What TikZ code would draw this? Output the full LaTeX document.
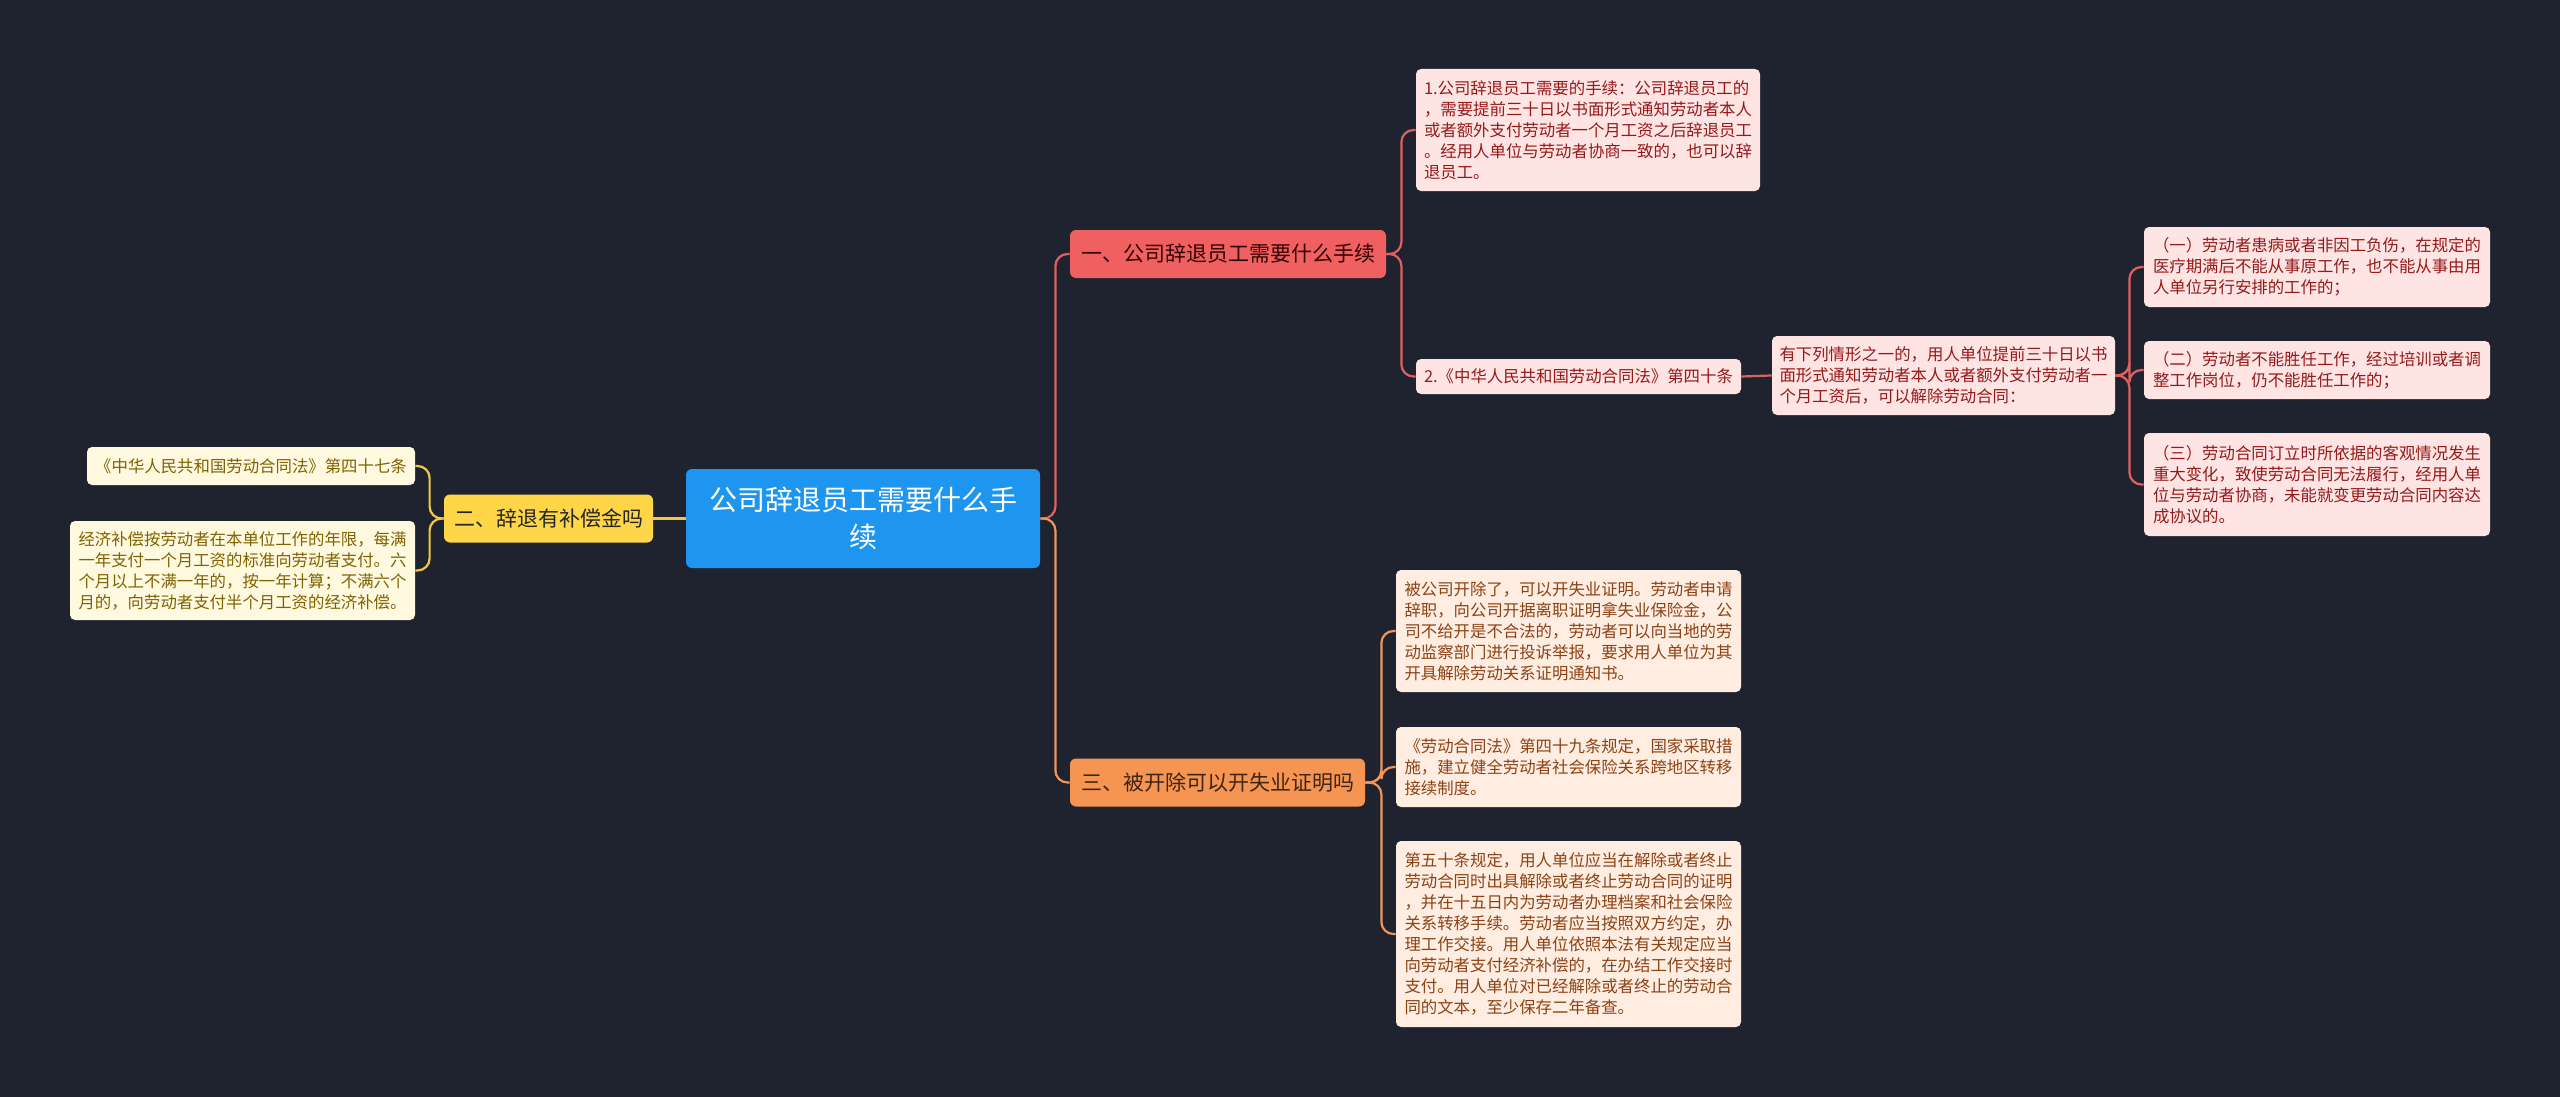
\documentclass[tikz,border=0pt]{standalone}
\usepackage{fontspec}
\newfontfamily\cjk{Noto Sans CJK SC}
\usepackage{xcolor}
\definecolor{bgc}{RGB}{31,35,48}
\definecolor{rootc}{RGB}{30,150,240}
\definecolor{yelc}{RGB}{255,214,72}
\definecolor{yelleaf}{RGB}{255,249,224}
\definecolor{yeltxt}{RGB}{128,98,0}
\definecolor{yelline}{RGB}{240,200,70}
\definecolor{redc}{RGB}{240,96,96}
\definecolor{redleaf}{RGB}{255,228,228}
\definecolor{redtxt}{RGB}{150,25,25}
\definecolor{redline}{RGB}{226,96,96}
\definecolor{orac}{RGB}{246,148,82}
\definecolor{oraleaf}{RGB}{255,237,225}
\definecolor{oratxt}{RGB}{140,66,20}
\definecolor{oraline}{RGB}{240,150,90}
\tikzset{
  rootbox/.style={rectangle,rounded corners=3pt,fill=rootc,text=white,inner sep=2pt,align=center,
    font=\cjk\fontsize{14}{18.5}\selectfont,minimum width=177pt,minimum height=49.5pt},
  br/.style={rectangle,rounded corners=3pt,inner sep=2pt,font=\cjk\fontsize{10.5}{12}\selectfont,minimum height=24pt},
  lf/.style={rectangle,rounded corners=2.5pt,inner sep=3pt,align=left,font=\cjk\fontsize{8.2}{10.5}\selectfont},
  lfr/.style={lf,fill=redleaf,text=redtxt},
  lfy/.style={lf,fill=yelleaf,text=yeltxt},
  lfo/.style={lf,fill=oraleaf,text=oratxt},
  % connectors: out of the parent, down the spine, into the child
  ln/.style={line width=1.1pt,rounded corners=6pt},
  lnr/.style={ln,draw=redline},
  lny/.style={ln,draw=yelline},
  lno/.style={ln,draw=oraline},
}
\newcommand{\Positions}{%
  \coordinate (R) at (863,518.5);
  \coordinate (Y) at (548.5,518.5);
  \coordinate (y1) at (251,466);     \coordinate (y2) at (242.5,570.5);
  \coordinate (A) at (1228,254);     \coordinate (O) at (1217.5,782.5);
  \coordinate (a1) at (1588,130);    \coordinate (a2) at (1578.5,376.5);
  \coordinate (a3) at (1943.5,375.5);
  \coordinate (c1) at (2317,267);    \coordinate (c2) at (2317,370);
  \coordinate (c3) at (2317,484.5);
  \coordinate (o1) at (1568.5,631);  \coordinate (o2) at (1568.5,767);
  \coordinate (o3) at (1568.5,934);
}

\begin{document}
\begin{tikzpicture}[x=0.5pt,y=-0.5pt]
  \fill[bgc] (0,0) rectangle (2560,1097);
  \useasboundingbox (0,0) rectangle (2560,1097);
  \Positions
  \node[rootbox] (root) at (R) {公司辞退员工需要什么手\\续};
  \node[br,fill=yelc,text=black!85,minimum width=104.5pt] (yel) at (Y) {二、辞退有补偿金吗};
  \node[br,fill=redc,text=black!80!red,minimum width=158pt] (red) at (A) {一、公司辞退员工需要什么手续};
  \node[br,fill=orac,text=black!75!orac,minimum width=147.5pt] (ora) at (O) {三、被开除可以开失业证明吗};
  % left side
  \node[lfy,minimum width=164pt,minimum height=19pt] (ly1) at (y1) {《中华人民共和国劳动合同法》第四十七条};
  \node[lfy,minimum width=172.5pt,minimum height=49.5pt] (ly2) at (y2) {经济补偿按劳动者在本单位工作的年限，每满\\一年支付一个月工资的标准向劳动者支付。六\\个月以上不满一年的，按一年计算；不满六个\\月的，向劳动者支付半个月工资的经济补偿。};
  % upper right
  \node[lfr,minimum width=172pt,minimum height=61pt] (la1) at (a1) {1.公司辞退员工需要的手续：公司辞退员工的\\，需要提前三十日以书面形式通知劳动者本人\\或者额外支付劳动者一个月工资之后辞退员工\\。经用人单位与劳动者协商一致的，也可以辞\\退员工。};
  \node[lfr,minimum width=162.5pt,minimum height=17.5pt] (la2) at (a2) {2.《中华人民共和国劳动合同法》第四十条};
  \node[lfr,minimum width=171.5pt,minimum height=39.5pt] (la3) at (a3) {有下列情形之一的，用人单位提前三十日以书\\面形式通知劳动者本人或者额外支付劳动者一\\个月工资后，可以解除劳动合同：};
  \node[lfr,minimum width=173pt,minimum height=40pt] (lc1) at (c1) {（一）劳动者患病或者非因工负伤，在规定的\\医疗期满后不能从事原工作，也不能从事由用\\人单位另行安排的工作的；};
  \node[lfr,minimum width=173pt,minimum height=29pt] (lc2) at (c2) {（二）劳动者不能胜任工作，经过培训或者调\\整工作岗位，仍不能胜任工作的；};
  \node[lfr,minimum width=173pt,minimum height=51.5pt] (lc3) at (c3) {（三）劳动合同订立时所依据的客观情况发生\\重大变化，致使劳动合同无法履行，经用人单\\位与劳动者协商，未能就变更劳动合同内容达\\成协议的。};
  % lower right
  \node[lfo,minimum width=172.5pt,minimum height=61pt] (lo1) at (o1) {被公司开除了，可以开失业证明。劳动者申请\\辞职，向公司开据离职证明拿失业保险金，公\\司不给开是不合法的，劳动者可以向当地的劳\\动监察部门进行投诉举报，要求用人单位为其\\开具解除劳动关系证明通知书。};
  \node[lfo,minimum width=172.5pt,minimum height=40pt] (lo2) at (o2) {《劳动合同法》第四十九条规定，国家采取措\\施，建立健全劳动者社会保险关系跨地区转移\\接续制度。};
  \node[lfo,minimum width=172.5pt,minimum height=93pt] (lo3) at (o3) {第五十条规定，用人单位应当在解除或者终止\\劳动合同时出具解除或者终止劳动合同的证明\\，并在十五日内为劳动者办理档案和社会保险\\关系转移手续。劳动者应当按照双方约定，办\\理工作交接。用人单位依照本法有关规定应当\\向劳动者支付经济补偿的，在办结工作交接时\\支付。用人单位对已经解除或者终止的劳动合\\同的文本，至少保存二年备查。};
  % connectors
  \draw[lny] (root.west) -- (yel.east);
  \draw[lny] (yel.west) -- ++(-14,0) |- (ly1.east);
  \draw[lny] (yel.west) -- ++(-14,0) |- (ly2.east);
  \draw[lnr] (root.east) -- ++(15,0) |- (red.west);
  \draw[lno] (root.east) -- ++(15,0) |- (ora.west);
  \draw[lnr] (red.east) -- ++(15,0) |- (la1.west);
  \draw[lnr] (red.east) -- ++(15,0) |- (la2.west);
  \draw[lnr] (la2.east) -- (la3.west);
  \draw[lnr] (la3.east) -- ++(14,0) |- (lc1.west);
  \draw[lnr] (la3.east) -- ++(14,0) |- (lc2.west);
  \draw[lnr] (la3.east) -- ++(14,0) |- (lc3.west);
  \draw[lno] (ora.east) -- ++(16,0) |- (lo1.west);
  \draw[lno] (ora.east) -- ++(16,0) |- (lo2.west);
  \draw[lno] (ora.east) -- ++(16,0) |- (lo3.west);
\end{tikzpicture}
\end{document}
